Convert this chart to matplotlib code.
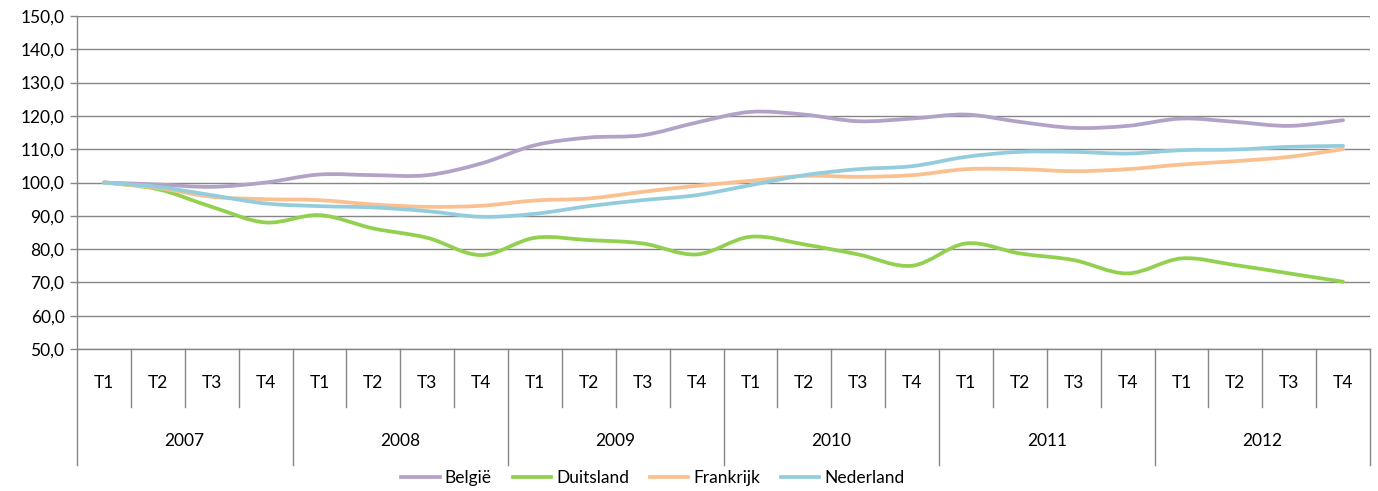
import numpy as np
import matplotlib
matplotlib.use('Agg')
import matplotlib.pyplot as plt
from matplotlib.path import Path
from matplotlib.patches import PathPatch
from matplotlib.lines import Line2D
import matplotlib.transforms as mtransforms

plt.rcParams['font.family'] = ['Lato', 'DejaVu Sans']

quarters = ['T1', 'T2', 'T3', 'T4']
years = ['2007', '2008', '2009', '2010', '2011', '2012']

belgie = [100.0, 99.4, 98.7, 100.0, 102.4, 102.2, 102.2, 105.7, 111.2, 113.5, 114.2, 118.0,
          121.2, 120.4, 118.4, 119.2, 120.4, 118.2, 116.4, 117.0, 119.2, 118.2, 117.0, 118.7]
duitsland = [100.0, 98.0, 92.7, 88.0, 90.2, 86.2, 83.4, 78.2, 83.4, 82.7, 81.7, 78.4,
             83.7, 81.4, 78.4, 75.0, 81.7, 78.7, 76.7, 72.7, 77.2, 75.2, 72.7, 70.2]
frankrijk = [100.0, 98.4, 95.7, 95.0, 94.7, 93.4, 92.7, 93.0, 94.6, 95.2, 97.2, 99.0,
             100.5, 102.0, 101.7, 102.2, 104.0, 104.0, 103.4, 104.0, 105.4, 106.4, 107.7, 110.0]
nederland = [100.0, 98.7, 96.2, 93.7, 92.9, 92.5, 91.4, 89.7, 90.6, 92.9, 94.7, 96.2,
             99.2, 102.2, 104.0, 104.9, 107.7, 109.2, 109.2, 108.7, 109.7, 109.9, 110.7, 111.0]

series_names = ['België', 'Duitsland', 'Frankrijk', 'Nederland']
series_values = [belgie, duitsland, frankrijk, nederland]
colors = ['#B3A2C7', '#92D050', '#FAC090', '#93CDDD']

W, H = 1378, 491
fig = plt.figure(figsize=(W / 100, H / 100), dpi=100)
ax = fig.add_axes([77 / W, 1 - 349 / H, (1370 - 77) / W, (349 - 16) / H])

n = len(quarters) * len(years)
x = np.arange(n, dtype=float)


def smooth_path(xs, ys):
    pts = np.column_stack([xs, ys])
    verts = [pts[0]]
    codes = [Path.MOVETO]
    for i in range(len(pts) - 1):
        p0 = pts[i - 1] if i > 0 else pts[i]
        p1 = pts[i]
        p2 = pts[i + 1]
        p3 = pts[i + 2] if i + 2 < len(pts) else pts[i + 1]
        c1 = p1 + (p2 - p0) / 6.0
        c2 = p2 - (p3 - p1) / 6.0
        verts += [c1, c2, p2]
        codes += [Path.CURVE4] * 3
    return Path(verts, codes)


for vals, col in zip(series_values, colors):
    patch = PathPatch(smooth_path(x, np.array(vals, dtype=float)), facecolor='none',
                      edgecolor=col, lw=2.7, capstyle='round', joinstyle='round', zorder=3)
    ax.add_patch(patch)

grid_col = '#868686'
fs = 12.5
ax.set_xlim(-0.5, n - 0.5)
ax.set_ylim(50, 150)
yt = np.arange(50, 151, 10)
ax.set_yticks(yt)
ax.set_yticklabels([f'{v:.1f}'.replace('.', ',') for v in yt], fontsize=fs, color='#000000')
ax.yaxis.grid(True, color=grid_col, lw=1.0)
ax.set_axisbelow(True)
ax.set_xticks([])
for s in ['top', 'right']:
    ax.spines[s].set_visible(False)
for s in ['left', 'bottom']:
    ax.spines[s].set_color(grid_col)
    ax.spines[s].set_linewidth(1.0)
ax.tick_params(axis='y', length=5, color=grid_col, width=1.0, pad=4)

trans = mtransforms.blended_transform_factory(ax.transData, ax.transAxes)
q_bottom = -(407 - 349) / 333
y_bottom = -(465 - 349) / 333
for b in range(n + 1):
    xb = b - 0.5
    yb = y_bottom if b % 4 == 0 else q_bottom
    ax.add_line(Line2D([xb, xb], [0, yb], transform=trans, color=grid_col, lw=1.0, clip_on=False))

for i in range(n):
    ax.text(x[i], -(383 - 349) / 333, quarters[i % 4], transform=trans, ha='center', va='center',
            fontsize=fs, color='#000000')
for j, yr in enumerate(years):
    ax.text(4 * j + 1.5, -(441 - 349) / 333, yr, transform=trans, ha='center', va='center',
            fontsize=fs, color='#000000')

handles = [Line2D([], [], color=c, lw=2.7) for c in colors]
fig.legend(handles, series_names, loc='center', bbox_to_anchor=(653 / W, 1 - 478 / H), ncol=4,
           frameon=False, fontsize=fs, handlelength=2.2, handletextpad=0.3, columnspacing=1.2,
           borderpad=0)

fig.savefig('out.png', dpi=100)
